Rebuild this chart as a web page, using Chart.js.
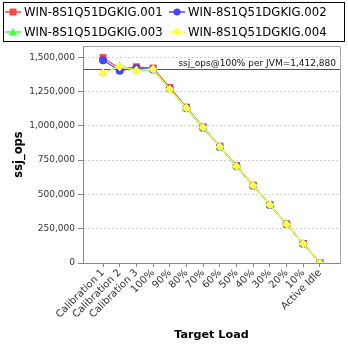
<!DOCTYPE html>
<html>
<head>
<meta charset="utf-8">
<script src="https://cdn.jsdelivr.net/npm/chart.js@4/dist/chart.umd.min.js"></script>
<style>
  html, body { margin: 0; padding: 0; background: #fff; }
  #wrap { width: 348px; height: 348px; }
</style>
</head>
<body>
<div id="wrap"><canvas id="c" width="348" height="348"></canvas></div>
<script>
// Target load levels on the x axis
const categories = ["Calibration 1", "Calibration 2", "Calibration 3", "100%", "90%", "80%", "70%", "60%", "50%", "40%", "30%", "20%", "10%", "Active Idle"];

// ssj_ops per JVM instance
const seriesNames = ["WIN-8S1Q51DGKIG.001", "WIN-8S1Q51DGKIG.002", "WIN-8S1Q51DGKIG.003", "WIN-8S1Q51DGKIG.004"];
const jvm001 = [1497000, 1418000, 1430000, 1421000, 1279000, 1136000, 992000, 851000, 710000, 567000, 425000, 284000, 142000, 0];
const jvm002 = [1478000, 1402000, 1420000, 1410000, 1270000, 1129000, 986000, 846000, 705000, 563000, 423000, 282000, 141000, 0];
const jvm003 = [1382000, 1438000, 1405000, 1408000, 1267000, 1127000, 987000, 846000, 705000, 564000, 423000, 282000, 141000, 0];
const jvm004 = [1385000, 1430000, 1406000, 1412500, 1266000, 1130000, 988000, 848000, 706000, 565000, 424000, 283000, 141000, 0];

// Reference level and y ticks
const refValue = 1412880;
const refLabel = "ssj_ops@100% per JVM=1,412,880";
const yTicks = [0, 250000, 500000, 750000, 1000000, 1250000, 1500000];

const colors = ["#ff4444", "#4444ff", "#44ff44", "#ffff44"];
const shapes = ["rect", "circle", "triangle", "rectRot"];
const radii = [5, 4, 4.5, 4.5];
const values = [jvm001, jvm002, jvm003, jvm004];

const FONT = "'DejaVu Sans', sans-serif";

function drawMarker(ctx, shape, x, y, r, color) {
  ctx.save();
  ctx.fillStyle = color;
  ctx.beginPath();
  if (shape === "rect") {
    ctx.rect(x - r, y - r, 2 * r, 2 * r);
  } else if (shape === "circle") {
    ctx.arc(x, y, r, 0, Math.PI * 2);
  } else if (shape === "triangle") {
    ctx.moveTo(x, y - r - 0.5);
    ctx.lineTo(x + r + 0.5, y + r);
    ctx.lineTo(x - r - 0.5, y + r);
    ctx.closePath();
  } else {
    ctx.moveTo(x, y - r - 1);
    ctx.lineTo(x + r + 1, y);
    ctx.lineTo(x, y + r + 1);
    ctx.lineTo(x - r - 1, y);
    ctx.closePath();
  }
  ctx.fill();
  ctx.restore();
}

// Boxed two-column legend above the plot
const boxLegend = {
  id: "boxLegend",
  afterDraw(chart) {
    const ctx = chart.ctx;
    ctx.save();
    ctx.strokeStyle = "#000";
    ctx.lineWidth = 1;
    ctx.strokeRect(3.5, 2.5, 341, 39);
    ctx.font = "11.7px " + FONT;
    ctx.textBaseline = "middle";
    const pos = [[5, 12], [169, 12], [5, 32], [169, 32]];
    chart.data.datasets.forEach((ds, i) => {
      const [x, y] = pos[i];
      ctx.strokeStyle = ds.borderColor;
      ctx.lineWidth = 1.5;
      ctx.beginPath();
      ctx.moveTo(x, y);
      ctx.lineTo(x + 16, y);
      ctx.stroke();
      drawMarker(ctx, shapes[i], x + 8, y, 3.5, ds.borderColor);
      ctx.fillStyle = "#000";
      ctx.fillText(ds.label, x + 19, y + 1);
    });
    ctx.restore();
  }
};

// Plot frame and the 100% reference line
const frame = {
  id: "frame",
  beforeDatasetsDraw(chart) {
    const { ctx, chartArea: a, scales } = chart;
    ctx.save();
    const y = Math.round(scales.y.getPixelForValue(refValue)) + 0.5;
    ctx.strokeStyle = "#555";
    ctx.lineWidth = 1;
    ctx.beginPath();
    ctx.moveTo(a.left, y);
    ctx.lineTo(a.right, y);
    ctx.stroke();
    ctx.fillStyle = "#111";
    ctx.font = "9px " + FONT;
    ctx.textAlign = "right";
    ctx.textBaseline = "bottom";
    ctx.fillText(refLabel, a.right - 4, y - 1);
    ctx.restore();
  },
  afterDraw(chart) {
    const { ctx, chartArea: a } = chart;
    ctx.save();
    ctx.strokeStyle = "#aaa";
    ctx.lineWidth = 1;
    ctx.beginPath();
    ctx.moveTo(a.left, Math.round(a.top) + 0.5);
    ctx.lineTo(Math.round(a.right) + 0.5, Math.round(a.top) + 0.5);
    ctx.lineTo(Math.round(a.right) + 0.5, a.bottom);
    ctx.stroke();
    ctx.restore();
  }
};

// Later series are painted over earlier ones
const datasets = values.map((v, i) => ({
  label: seriesNames[i],
  data: v.map((val, k) => ({ x: k, y: val })),
  borderColor: colors[i],
  backgroundColor: colors[i],
  borderWidth: 1.2,
  pointStyle: shapes[i],
  pointRadius: radii[i],
  pointBorderWidth: 0,
  tension: 0,
  order: values.length - i
}));

new Chart(document.getElementById("c"), {
  type: "line",
  data: { datasets },
  plugins: [boxLegend, frame],
  options: {
    responsive: false,
    animation: false,
    devicePixelRatio: 1,
    layout: { padding: { top: 46, right: 8, left: 0, bottom: 0 } },
    plugins: { legend: { display: false }, tooltip: { enabled: false } },
    scales: {
      x: {
        type: "linear",
        min: -1.2,
        max: 14.2,
        afterBuildTicks(scale) {
          scale.ticks = categories.map((_, i) => ({ value: i }));
        },
        afterFit(scale) { scale.height = 85; },
        ticks: {
          autoSkip: false,
          maxRotation: 45,
          minRotation: 45,
          padding: 0,
          color: "#333",
          font: { family: FONT, size: 10 },
          callback: (v) => categories[v]
        },
        grid: { display: true, drawOnChartArea: false, drawTicks: true, tickLength: 4, color: "#888" },
        border: { display: true, color: "#888" },
        title: {
          display: true, text: "Target Load", color: "#000",
          font: { family: FONT, size: 11.2, weight: "bold" }, padding: { top: 0, bottom: 6 }
        }
      },
      y: {
        min: 0,
        max: 1582000,
        afterBuildTicks(scale) {
          scale.ticks = yTicks.map(v => ({ value: v }));
        },
        afterFit(scale) { scale.width = 83; },
        ticks: {
          color: "#333",
          padding: 3,
          font: { family: FONT, size: 9 },
          callback: (v) => v.toLocaleString("en-US")
        },
        grid: {
          color: (c) => c.tick && c.tick.value === 0 ? "rgba(0,0,0,0)" : "#d0d0d0",
          tickColor: "#888",
          tickLength: 5,
          drawTicks: true
        },
        border: { display: true, color: "#888", dash: [2, 2] },
        title: {
          display: true, text: "ssj_ops", color: "#000",
          font: { family: FONT, size: 11.5, weight: "bold" }, padding: { top: 12, bottom: 0 }
        }
      }
    }
  }
});
</script>
</body>
</html>
